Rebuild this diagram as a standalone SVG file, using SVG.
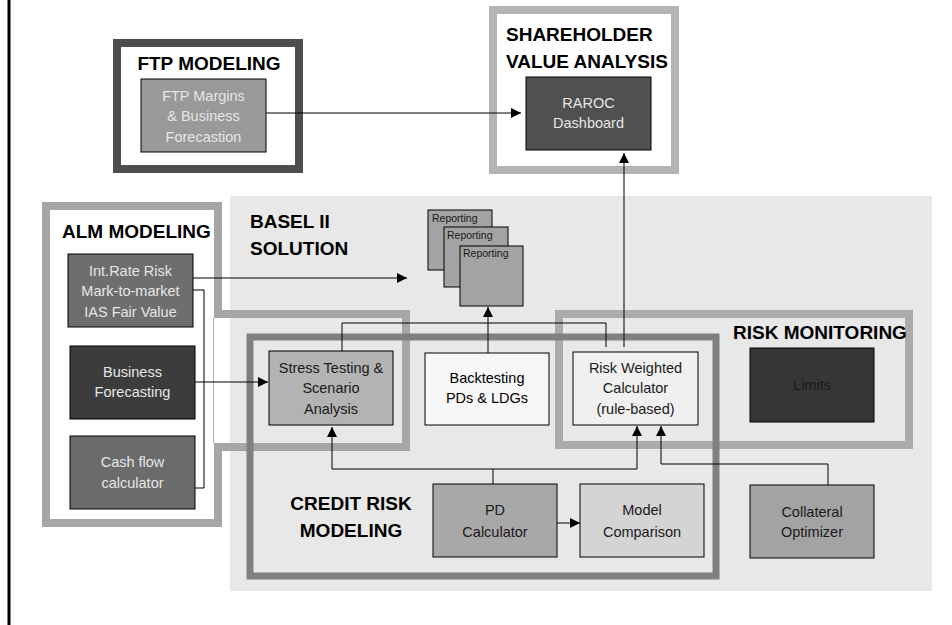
<svg xmlns="http://www.w3.org/2000/svg" width="952" height="625" viewBox="0 0 952 625">
  <style>
    text { font-family: "Liberation Sans", Arial, sans-serif; }
    .title { font-size: 19px; font-weight: bold; fill: #000; }
    .lbl { font-size: 14.5px; text-anchor: middle; }
    .light { fill: #e6e6e6; }
    .dark { fill: #1a1a1a; }
    .box { stroke: #000; stroke-width: 1; }
    .rep { font-size: 10.5px; fill: #1a1a1a; }
    .conn { fill: none; stroke: #000; stroke-width: 1; }
    .frame { fill: none; stroke-width: 8; }
  </style>
  <defs>
    <marker id="arrow" markerUnits="userSpaceOnUse" markerWidth="11" markerHeight="10" refX="10" refY="5" orient="auto">
      <path d="M0,0 L10,5 L0,10 Z" fill="#000"/>
    </marker>
  </defs>

  <rect width="952" height="625" fill="#fff"/>
  <line x1="9" y1="0" x2="9" y2="625" stroke="#000" stroke-width="3"/>

  <!-- Basel II solution area -->
  <g id="basel">
    <rect x="230" y="196" width="702" height="395" fill="#e8e8e8"/>
    <text class="title" x="250" y="228">BASEL II</text>
    <text class="title" x="250" y="255">SOLUTION</text>
  </g>

  <!-- FTP modeling -->
  <g id="ftp-modeling">
    <rect class="frame" x="117" y="43" width="182" height="126" fill="#fff" stroke="#4d4d4d"/>
    <text class="title" x="209" y="70" text-anchor="middle">FTP MODELING</text>
  </g>
  <g id="ftp-margins">
    <rect class="box" x="141" y="79" width="125" height="73" fill="#999"/>
    <text class="lbl light" x="203.5" y="101">FTP Margins</text>
    <text class="lbl light" x="203.5" y="121">&amp; Business</text>
    <text class="lbl light" x="203.5" y="142">Forecastion</text>
  </g>

  <!-- Shareholder value analysis -->
  <g id="shareholder">
    <rect class="frame" x="493" y="10" width="182" height="160" fill="#fff" stroke="#b3b3b3"/>
    <text class="title" x="506" y="41">SHAREHOLDER</text>
    <text class="title" x="506" y="68">VALUE ANALYSIS</text>
  </g>
  <g id="raroc">
    <rect class="box" x="526" y="77" width="125" height="73" fill="#505050"/>
    <text class="lbl light" x="588.5" y="108">RAROC</text>
    <text class="lbl light" x="588.5" y="128">Dashboard</text>
  </g>

  <!-- ALM modeling -->
  <g id="alm-modeling">
    <line x1="213.5" y1="318" x2="213.5" y2="443" stroke="#b0b0b0" stroke-width="1"/>
    <path class="frame" d="M46,206 H218 V314 H406 V447 H218 V523 H46 Z" stroke="#a6a6a6"/>
    <text class="title" x="62" y="238">ALM MODELING</text>
  </g>
  <g id="int-rate">
    <rect class="box" x="68" y="254" width="125" height="73" fill="#6e6e6e"/>
    <text class="lbl light" x="130.5" y="276">Int.Rate Risk</text>
    <text class="lbl light" x="130.5" y="296">Mark-to-market</text>
    <text class="lbl light" x="130.5" y="317">IAS Fair Value</text>
  </g>
  <g id="business-forecasting">
    <rect class="box" x="70" y="346" width="125" height="73" fill="#3c3c3c"/>
    <text class="lbl light" x="132.5" y="377">Business</text>
    <text class="lbl light" x="132.5" y="397">Forecasting</text>
  </g>
  <g id="cash-flow">
    <rect class="box" x="70" y="436" width="125" height="73" fill="#6b6b6b"/>
    <text class="lbl light" x="132.5" y="467">Cash flow</text>
    <text class="lbl light" x="132.5" y="488">calculator</text>
  </g>

  <!-- Risk monitoring -->
  <g id="risk-monitoring">
    <rect class="frame" x="559" y="314" width="350" height="131" fill="#ebebeb" stroke="#ababab"/>
    <text class="title" x="820" y="339" text-anchor="middle">RISK MONITORING</text>
  </g>
  <g id="limits">
    <rect class="box" x="750" y="348" width="124" height="74" fill="#363636"/>
    <text class="lbl" x="812" y="390" fill="#1a1a1a">Limits</text>
  </g>

  <!-- Credit risk modeling -->
  <g id="credit-risk">
    <rect x="250" y="337" width="466" height="239" fill="none" stroke="#808080" stroke-width="7"/>
    <text class="title" x="351" y="510" text-anchor="middle">CREDIT RISK</text>
    <text class="title" x="351" y="537" text-anchor="middle">MODELING</text>
  </g>

  <!-- Reporting stack -->
  <g id="reporting">
    <rect class="box" x="428" y="210" width="64" height="60" fill="#a3a3a3"/>
    <text class="rep" x="432" y="222">Reporting</text>
    <rect class="box" x="444" y="227" width="64" height="60" fill="#a3a3a3"/>
    <text class="rep" x="447" y="239">Reporting</text>
    <rect class="box" x="460" y="246" width="63" height="60" fill="#a3a3a3"/>
    <text class="rep" x="463" y="257">Reporting</text>
  </g>

  <g id="stress-testing">
    <rect class="box" x="269" y="351" width="124" height="74" fill="#b3b3b3"/>
    <text class="lbl dark" x="331" y="373">Stress Testing &amp;</text>
    <text class="lbl dark" x="331" y="393">Scenario</text>
    <text class="lbl dark" x="331" y="414">Analysis</text>
  </g>
  <g id="backtesting">
    <rect class="box" x="425" y="353" width="124" height="72" fill="#f7f7f7"/>
    <text class="lbl" x="487" y="383">Backtesting</text>
    <text class="lbl" x="487" y="403">PDs &amp; LDGs</text>
  </g>
  <g id="risk-weighted">
    <rect class="box" x="573" y="352" width="125" height="73" fill="#f0f0f0"/>
    <text class="lbl dark" x="635.5" y="373">Risk Weighted</text>
    <text class="lbl dark" x="635.5" y="393">Calculator</text>
    <text class="lbl dark" x="635.5" y="414">(rule-based)</text>
  </g>
  <g id="pd-calculator">
    <rect class="box" x="433" y="484" width="124" height="73" fill="#a8a8a8"/>
    <text class="lbl dark" x="495" y="515">PD</text>
    <text class="lbl dark" x="495" y="537">Calculator</text>
  </g>
  <g id="model-comparison">
    <rect class="box" x="580" y="484" width="124" height="73" fill="#d4d4d4"/>
    <text class="lbl dark" x="642" y="515">Model</text>
    <text class="lbl dark" x="642" y="537">Comparison</text>
  </g>
  <g id="collateral">
    <rect class="box" x="750" y="485" width="124" height="73" fill="#a3a3a3"/>
    <text class="lbl dark" x="812" y="517">Collateral</text>
    <text class="lbl dark" x="812" y="537">Optimizer</text>
  </g>

  <!-- Connectors -->
  <g id="connectors">
    <path class="conn" d="M266,113 H521" marker-end="url(#arrow)"/>
    <path class="conn" d="M624,347 V153" marker-end="url(#arrow)"/>
    <path class="conn" d="M193,278 H407" marker-end="url(#arrow)"/>
    <path class="conn" d="M193,290 H204 V488 H195"/>
    <path class="conn" d="M195,382 H268" marker-end="url(#arrow)"/>
    <path class="conn" d="M342,351 V323 H606 V347"/>
    <path class="conn" d="M488,353 V307" marker-end="url(#arrow)"/>
    <path class="conn" d="M493,484 V469 H332 V427" marker-end="url(#arrow)"/>
    <path class="conn" d="M493,469 H637 V426" marker-end="url(#arrow)"/>
    <path class="conn" d="M828,485 V464 H661 V426" marker-end="url(#arrow)"/>
    <path class="conn" d="M557,523 H580" marker-end="url(#arrow)"/>
  </g>
</svg>
